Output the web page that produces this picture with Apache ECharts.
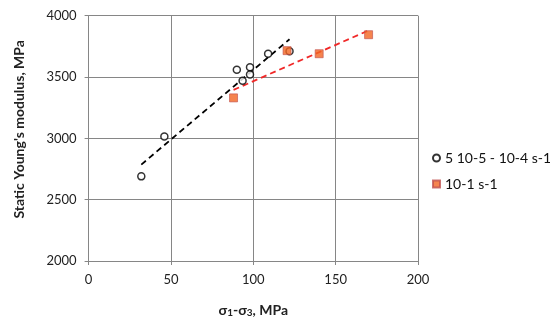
<!DOCTYPE html>
<html><head><meta charset="utf-8">
<script src="https://cdn.jsdelivr.net/npm/echarts@6/dist/echarts.min.js"></script>
<style>html,body{margin:0;padding:0;background:#fff}#c{width:550px;height:327px}</style>
</head><body><div id="c"></div>
<script>
var lowRateX = [32, 46, 90, 93.5, 98, 98, 109, 122];
var lowRateY = [2690, 3015, 3560, 3470, 3580, 3520, 3690, 3710];
var highRateX = [88, 120.5, 140, 170];
var highRateY = [3330, 3715, 3690, 3845];
var lowTrendX = [32, 122];
var lowTrendY = [2786, 3808];
var highTrendX = [88, 170];
var highTrendY = [3395, 3880];
var seriesNames = ['5 10-5 - 10-4 s-1', '10-1 s-1'];

function pairs(xs, ys){ return xs.map(function(x,i){return [x, ys[i]];}); }

var font = 'Lato, "Open Sans", sans-serif';
var chart = echarts.init(document.getElementById('c'));
chart.setOption({
  animation: false,
  textStyle: {fontFamily: font},
  grid: {left: 88.6, right: 132, top: 15.7, bottom: 66},
  legend: {
    orient: 'vertical', left: 427, top: 146, itemGap: 12,
    itemWidth: 7, itemHeight: 7,
    data: seriesNames,
    textStyle: {fontFamily: font, fontSize: 14, color: '#111'}
  },
  xAxis: {
    type: 'value', min: 0, max: 200, interval: 50,
    axisLine: {show: true, lineStyle: {color: '#868686', width: 1}},
    axisTick: {show: true, length: 4, lineStyle: {color: '#868686'}},
    splitLine: {show: true, lineStyle: {color: '#868686', width: 1}},
    axisLabel: {fontFamily: font, fontSize: 13, color: '#222', margin: 12},
    name: '\u03c3{s|1}-\u03c3{s|3}, MPa', nameLocation: 'middle', nameGap: 41,
    nameTextStyle: {fontFamily: font, fontSize: 14, fontWeight: 'bold', color: '#222',
      rich: {s: {fontSize: 10, fontWeight: 'bold', verticalAlign: 'bottom', padding: [6,0,0,0], fontFamily: font, color: '#222'}}}
  },
  yAxis: {
    type: 'value', min: 2000, max: 4000, interval: 500,
    axisLine: {show: true, lineStyle: {color: '#868686', width: 1}},
    axisTick: {show: true, length: 4, lineStyle: {color: '#868686'}},
    splitLine: {show: true, lineStyle: {color: '#868686', width: 1}},
    axisLabel: {fontFamily: font, fontSize: 13, color: '#222', margin: 12,
      formatter: function(v){ return String(v); }},
    name: "Static Young's modulus, MPa", nameLocation: 'middle', nameGap: 62,
    nameTextStyle: {fontFamily: font, fontSize: 14, fontWeight: 'bold', color: '#222', padding: [0, 0, 0, 18]}
  },
  series: [
    {name: 'trend1', type: 'line', data: pairs(lowTrendX, lowTrendY), symbol: 'none', silent: true,
     lineStyle: {color: '#000', width: 1.8, type: [6, 4]}, z: 2},
    {name: 'trend2', type: 'line', data: pairs(highTrendX, highTrendY), symbol: 'none', silent: true,
     lineStyle: {color: '#F02828', width: 1.8, type: [6, 4]}, z: 2},
    {name: seriesNames[0], type: 'scatter', data: pairs(lowRateX, lowRateY), symbol: 'circle', symbolSize: 7,
     itemStyle: {color: '#fff', borderColor: '#000', borderWidth: 1.5}, z: 3},
    {name: seriesNames[1], type: 'scatter', data: pairs(highRateX, highRateY), symbol: 'rect', symbolSize: 8,
     itemStyle: {color: '#F26522', borderColor: '#C0504D', borderWidth: 0.8}, z: 4}
  ]
});
</script></body></html>
